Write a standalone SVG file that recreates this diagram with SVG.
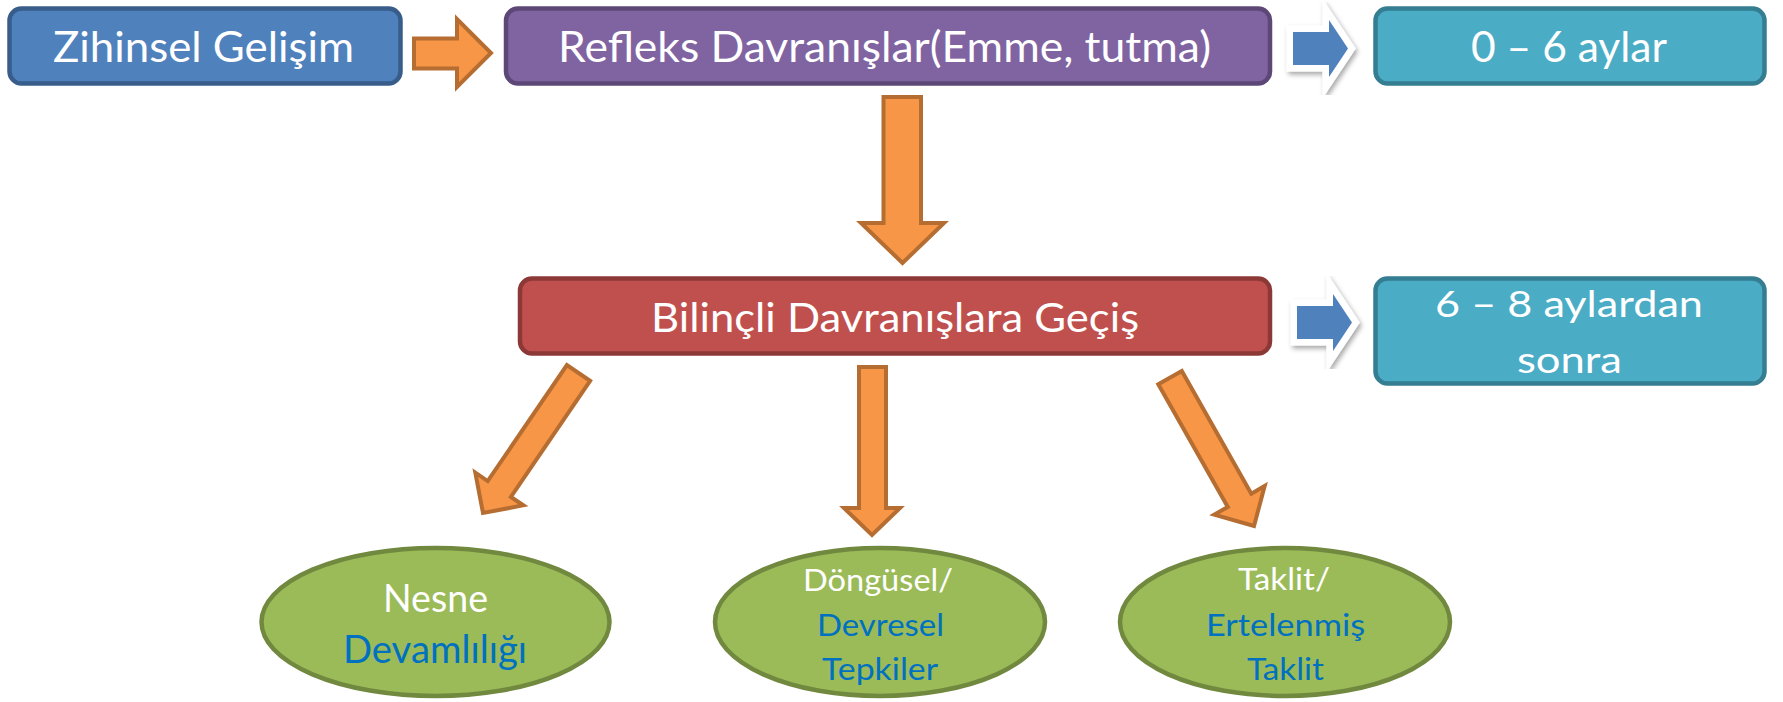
<svg xmlns="http://www.w3.org/2000/svg" width="1783" height="702" viewBox="0 0 1783 702">
<style>
text{font-family:Lato,"Open Sans","Liberation Sans",sans-serif;fill:#fff;text-anchor:middle}
.box{stroke-width:4.5}
.oa{fill:#F79646;stroke:#B66D31;stroke-width:4;stroke-linejoin:miter}
.ba{fill:#4F81BD;stroke:#fff;stroke-width:13;stroke-linejoin:miter;paint-order:stroke;filter:url(#sh)}
.ell{fill:#9BBB59;stroke:#71893F;stroke-width:4.5}
.blue{fill:#0070C0}
</style>
<defs>
<filter id="sh" x="-30%" y="-30%" width="160%" height="160%">
<feDropShadow dx="2" dy="3" stdDeviation="2.5" flood-color="#000" flood-opacity="0.35"/>
</filter>
</defs>
<rect width="1783" height="702" fill="#fff"/>
<g id="zihinsel">
<rect class="box" x="9.5" y="8.5" width="391" height="75" rx="12" fill="#4F81BD" stroke="#385D8A"/>
<text x="203.5" y="62" font-size="42" textLength="301" lengthAdjust="spacingAndGlyphs">Zihinsel Gelişim</text>
</g>
<g id="refleks">
<rect class="box" x="506" y="8.5" width="764" height="75" rx="12" fill="#8064A2" stroke="#5C4776"/>
<text x="884.5" y="62" font-size="42" textLength="653" lengthAdjust="spacingAndGlyphs">Refleks Davranışlar(Emme, tutma)</text>
</g>
<g id="ay06">
<rect class="box" x="1375.5" y="8.5" width="389" height="75" rx="12" fill="#4BACC6" stroke="#357D91"/>
<text x="1569" y="62" font-size="42" textLength="196" lengthAdjust="spacingAndGlyphs">0 – 6 aylar</text>
</g>
<g id="bilincli">
<rect class="box" x="520" y="278.5" width="750" height="75" rx="12" fill="#C0504D" stroke="#8C3836"/>
<text x="895" y="332" font-size="41" textLength="488" lengthAdjust="spacingAndGlyphs">Bilinçli Davranışlara Geçiş</text>
</g>
<g id="ay68">
<rect class="box" x="1375.5" y="278.5" width="389" height="105" rx="12" fill="#4BACC6" stroke="#357D91"/>
<text x="1569" y="317" font-size="36" textLength="268" lengthAdjust="spacingAndGlyphs">6 – 8 aylardan</text>
<text x="1569.5" y="373" font-size="36" textLength="105" lengthAdjust="spacingAndGlyphs">sonra</text>
</g>
<g id="nesne">
<ellipse class="ell" cx="435.5" cy="622" rx="174" ry="74"/>
<text x="435.5" y="612" font-size="38" textLength="105" lengthAdjust="spacingAndGlyphs">Nesne</text>
<text class="blue" x="435" y="663" font-size="38" textLength="184" lengthAdjust="spacingAndGlyphs">Devamlılığı</text>
</g>
<g id="dongusel">
<ellipse class="ell" cx="880" cy="622" rx="165" ry="74"/>
<text x="878" y="591" font-size="31" textLength="150" lengthAdjust="spacingAndGlyphs">Döngüsel/</text>
<text class="blue" x="880.5" y="636" font-size="31" textLength="127" lengthAdjust="spacingAndGlyphs">Devresel</text>
<text class="blue" x="880" y="680" font-size="31" textLength="116" lengthAdjust="spacingAndGlyphs">Tepkiler</text>
</g>
<g id="taklit">
<ellipse class="ell" cx="1285" cy="622" rx="165" ry="74"/>
<text x="1284" y="590" font-size="31" textLength="92" lengthAdjust="spacingAndGlyphs">Taklit/</text>
<text class="blue" x="1285.5" y="636" font-size="31" textLength="159" lengthAdjust="spacingAndGlyphs">Ertelenmiş</text>
<text class="blue" x="1285.5" y="680" font-size="31" textLength="77" lengthAdjust="spacingAndGlyphs">Taklit</text>
</g>
<g id="connectors">
<path class="oa" d="M414,38.5 H457 V19 L491,53 L457,87 V68.5 H414 Z"/>
<path class="oa" d="M883.5,97 H921 V223 H944 L902.5,263 L861,223 H883.5 Z"/>
<path class="oa" d="M859,367 H886 V508 H900 L872,535 L844,508 H859 Z"/>
<path class="oa" d="M590.1,380.9 L510.9,496.9 L523.3,505.3 L483,513 L475.3,472.7 L487.7,481.1 L566.9,365.1 Z"/>
<path class="oa" d="M1158.3,384.2 L1227.8,507 L1214.3,514.6 L1254,526 L1264.7,486 L1251.3,493.7 L1181.8,370.9 Z"/>
<path class="ba" d="M1293,32 H1329 V20 L1348,48.5 L1329,77 V65 H1293 Z"/>
<path class="ba" transform="translate(4,274)" d="M1293,32 H1329 V20 L1348,48.5 L1329,77 V65 H1293 Z"/>
</g>
</svg>
